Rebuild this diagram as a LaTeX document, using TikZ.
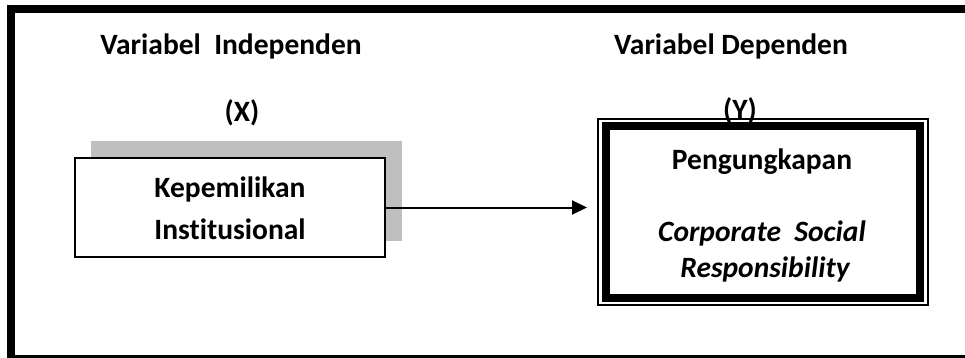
\documentclass[tikz,border=0pt]{standalone}
\usepackage{fontspec}
\setmainfont{Carlito}[Ligatures=NoCommon]
\usetikzlibrary{arrows.meta}
\tikzset{
  lbl/.style={anchor=base, inner sep=0pt, font=\fontsize{29.5}{35}\selectfont\bfseries},
  ilbl/.style={lbl, font=\fontsize{29.5}{35}\selectfont\bfseries\itshape},
  frame/.style={fill=black},
  varbox/.style={draw=black, line width=2pt, fill=white, rectangle, inner sep=0pt, outer sep=0pt},
  shadowbox/.style={fill=black!25},
  link/.style={line width=2pt, -{Triangle[length=15pt,width=14pt]}}
}
\begin{document}
\begin{tikzpicture}[x=1pt,y=-1pt]
\useasboundingbox (0,0) rectangle (965,358);
\fill[white] (0,0) rectangle (965,358);
% outer frame (cut on the right and bottom)
\fill[frame] (7,5) rectangle (965,13);
\fill[frame] (7,5) rectangle (15,358);
\fill[frame] (7,355) rectangle (965,358);
% titles
\node[lbl] (tx) at (231,55) {Variabel~~Independen};
\node[lbl] (ty) at (731,55) {Variabel Dependen};
\node[lbl] (x) at (242,122) {(X)};
% left box with shadow
\fill[shadowbox] (91,141) rectangle (402,241);
\node[varbox, minimum width=310pt, minimum height=99pt] (L) at (230,207.5) {};
\node[lbl] (k1) at (230,197) {Kepemilikan};
\node[lbl] (k2) at (230,239) {Institusional};
% right box
\node[varbox, fill=none, minimum width=330pt, minimum height=186pt] (R) at (763,212) {};
\draw[line width=8pt] ([shift={(8pt,-7pt)}]R.north west) rectangle ([shift={(-8pt,7pt)}]R.south east);
\node[lbl] (y) at (740,120) {(Y)};
\node[lbl] (p1) at (762,170) {Pengungkapan};
\node[ilbl] (p2) at (762,241) {Corporate~~Social};
\node[ilbl] (p3) at (765,277) {Responsibility};
% connector
\draw[link, shorten >=11pt] (L.east) -- (L.east -| R.west);
\end{tikzpicture}
\end{document}
